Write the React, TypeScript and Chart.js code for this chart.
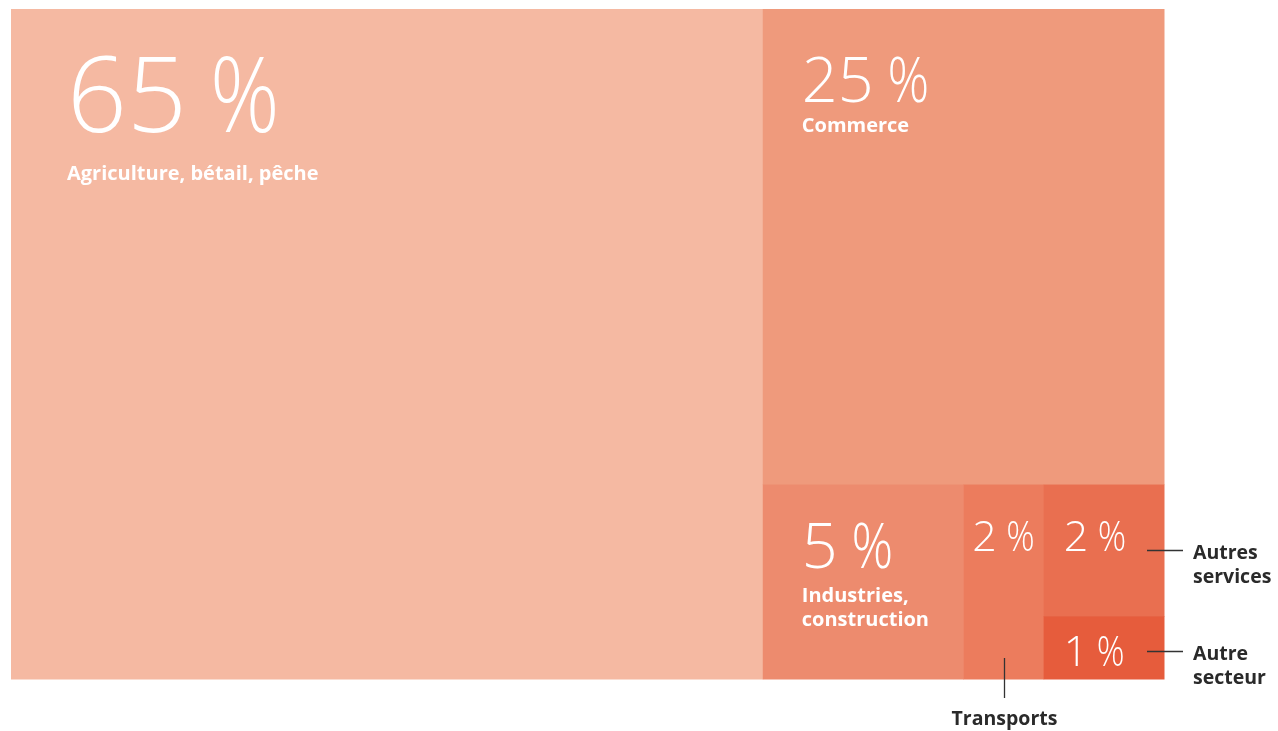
import React, { useEffect, useRef } from "react";
import { Chart, registerables } from "chart.js";

Chart.register(...registerables);

const categories = [
  "Agriculture, bétail, pêche",
  "Commerce",
  "Industries, construction",
  "Transports",
  "Autres services",
  "Autre secteur",
];
// area shares (rounded values shown in labels)
const shares = [65.2, 24.7, 5.05, 2.02, 2.05, 0.98];
const colors = ["#F5B9A2", "#EF9A7C", "#ED8B6E", "#EC7C5D", "#E96F50", "#E65C3C"];
const insideLabels = [
  ["Agriculture, bétail, pêche"],
  ["Commerce"],
  ["Industries,", "construction"],
  [],
  [],
  [],
];
const outsideLabels = [[], [], [], ["Transports"], ["Autres", "services"], ["Autre", "secteur"]];

type R = { x0: number; y0: number; x1: number; y1: number };

function sliceLayout(values: number[], W: number, H: number): R[] {
  let rx = 0, ry = 0, rw = 1, rh = 1;
  let remaining = values.reduce((a, b) => a + b, 0);
  const out: R[] = [];
  values.forEach((v, i) => {
    if (i === values.length - 1) {
      out.push({ x0: rx, y0: ry, x1: rx + rw, y1: ry + rh });
    } else if (rw * W >= rh * H) {
      const w = (rw * v) / remaining;
      out.push({ x0: rx, y0: ry, x1: rx + w, y1: ry + rh });
      rx += w; rw -= w;
    } else {
      const h = (rh * v) / remaining;
      out.push({ x0: rx, y0: ry, x1: rx + rw, y1: ry + h });
      ry += h; rh -= h;
    }
    remaining -= v;
  });
  return out;
}

const NUM_FONT = '"Open Sans", Lato, sans-serif';
const LABEL_FONT = '"Open Sans", Lato, sans-serif';

function drawPct(ctx: CanvasRenderingContext2D, value: number, size: number, x: number, y: number, align: "left" | "center") {
  ctx.font = `300 ${size}px ${NUM_FONT}`;
  const num = String(Math.round(value));
  const nw = ctx.measureText(num).width;
  const gap = size * 0.22;
  const sx = 0.82;
  const pw = ctx.measureText("%").width * sx;
  const total = nw + gap + pw;
  const x0 = align === "center" ? x - total / 2 : x;
  ctx.textAlign = "left";
  ctx.fillText(num, x0, y);
  ctx.save();
  ctx.translate(x0 + nw + gap, y);
  ctx.scale(sx, 1);
  ctx.fillText("%", 0, 0);
  ctx.restore();
}

const treemapPlugin = {
  id: "treemapRects",
  beforeDatasetsDraw(chart: any) {
    const { ctx, chartArea, scales } = chart;
    const xs = scales.x, ys = scales.y;
    const W = chartArea.right - chartArea.left;
    const H = chartArea.bottom - chartArea.top;
    const rects = sliceLayout(shares, W, H).map((r) => ({
      l: xs.getPixelForValue(r.x0 * 100),
      r: xs.getPixelForValue(r.x1 * 100),
      t: ys.getPixelForValue(r.y0 * 100),
      b: ys.getPixelForValue(r.y1 * 100),
    }));
    const numSize = [105, 63, 63, 43, 43, 42];
    const numBase = [123, 93, 83, 66, 66, 50];
    const leftOff = [56, 39, 39, -1, 20, 20];
    const labelGap = [48, 30, 34, 0, 0, 0];
    ctx.save();
    rects.forEach((p, i) => {
      ctx.fillStyle = colors[i];
      ctx.fillRect(p.l, p.t, p.r - p.l + 0.5, p.b - p.t + 0.5);
    });
    rects.forEach((p, i) => {
      ctx.fillStyle = "#ffffff";
      ctx.textBaseline = "alphabetic";
      const nb = p.t + numBase[i];
      if (leftOff[i] < 0) drawPct(ctx, shares[i], numSize[i], (p.l + p.r) / 2, nb, "center");
      else drawPct(ctx, shares[i], numSize[i], p.l + leftOff[i], nb, "left");
      ctx.textAlign = "left";
      ctx.font = `bold 20px ${LABEL_FONT}`;
      insideLabels[i].forEach((line, k) => {
        ctx.fillText(line, p.l + leftOff[i], nb + labelGap[i] + k * 24);
      });
    });
    ctx.strokeStyle = "#333333";
    ctx.lineWidth = 1.3;
    ctx.fillStyle = "#2a2a2a";
    ctx.font = `bold 19.5px ${LABEL_FONT}`;
    rects.forEach((p, i) => {
      const lines = outsideLabels[i];
      if (!lines.length) return;
      if (p.b >= chartArea.bottom - 1 && p.r < chartArea.right - 1) {
        const cx = Math.round((p.l + p.r) / 2) + 0.5;
        ctx.beginPath();
        ctx.moveTo(cx, p.b - 21);
        ctx.lineTo(cx, p.b + 19);
        ctx.stroke();
        ctx.textAlign = "center";
        ctx.fillText(lines[0], cx, p.b + 46);
      } else {
        const cy = Math.round(i === 5 ? p.t + 35 : (p.t + p.b) / 2) + 0.5;
        ctx.beginPath();
        ctx.moveTo(p.r - 17, cy);
        ctx.lineTo(p.r + 19, cy);
        ctx.stroke();
        ctx.textAlign = "left";
        lines.forEach((line, k) => {
          ctx.fillText(line, p.r + 29, cy + 8 + k * 24);
        });
      }
    });
    ctx.restore();
  },
};

export default function App() {
  const ref = useRef<HTMLCanvasElement>(null);
  useEffect(() => {
    const chart = new Chart(ref.current!, {
      type: "scatter",
      data: {
        labels: categories,
        datasets: [
          {
            label: "Part",
            data: shares.map((v, i) => ({ x: i, y: v })),
            pointRadius: 0,
            pointHoverRadius: 0,
          },
        ],
      },
      options: {
        animation: false,
        responsive: false,
        layout: { padding: { left: 11, top: 9, right: 114, bottom: 52 } },
        plugins: { legend: { display: false }, tooltip: { enabled: false } },
        scales: {
          x: { type: "linear", min: 0, max: 100, display: false },
          y: { type: "linear", min: 0, max: 100, reverse: true, display: false },
        },
      },
      plugins: [treemapPlugin],
    });
    return () => chart.destroy();
  }, []);
  return (
    <div style={{ position: "absolute", left: 0, top: 0, width: 1278, height: 731, background: "#fff" }}>
      <canvas ref={ref} width={1278} height={731} style={{ width: 1278, height: 731 }} />
    </div>
  );
}
